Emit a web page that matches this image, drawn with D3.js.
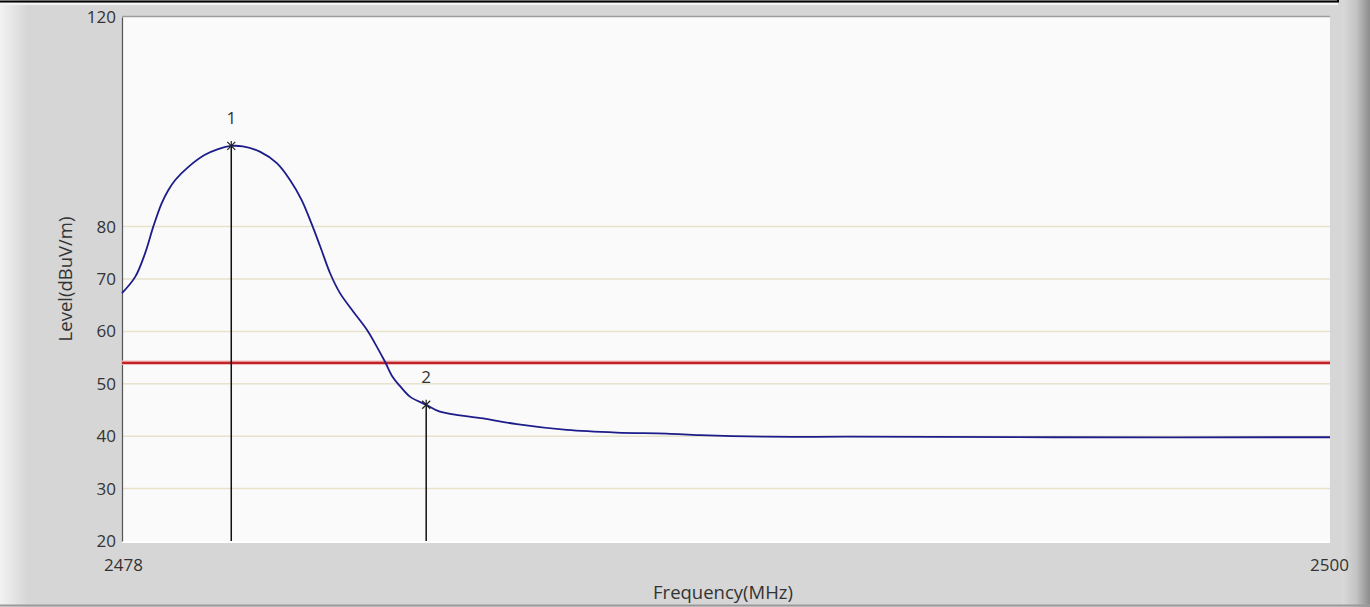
<!DOCTYPE html>
<html><head><meta charset="utf-8">
<script src="https://cdn.jsdelivr.net/npm/d3@7"></script>
<style>
html,body{margin:0;padding:0;background:#d6d6d6;}
svg{display:block;}
text{font-family:"Open Sans","Noto Sans",sans-serif;fill:#333;}
</style></head>
<body>
<svg id="c" width="1370" height="607"></svg>
<script>
// ---- data ----
const freqs  = [2478.00,2478.24,2478.42,2478.57,2478.72,2478.84,2478.97,2479.21,2479.51,2479.75,2479.99,2480.20,2480.51,2480.82,2481.06,2481.27,2481.45,2481.61,2481.79,2481.97,2482.21,2482.46,2482.64,2482.79,2482.93,2483.06,2483.25,2483.54,2483.79,2484.58,2485.19,2486.10,2487.01,2487.92,2488.53,2489.74,2491.26,2495.00,2500.00];
const levels = [67.3,70.4,74.9,80.0,84.4,86.9,88.9,91.4,93.7,94.8,95.4,95.3,94.3,92.1,88.9,85.1,80.6,76.2,71.1,67.3,63.8,60.3,57.1,54.2,51.3,49.6,47.5,46.0,44.7,43.4,42.3,41.2,40.7,40.5,40.2,39.9,39.9,39.8,39.8];
const limitLevel = 54;
const markerFreqs  = [2479.99, 2483.54];
const markerLevels = [95.4, 46.0];
const markerLabels = ["1","2"];
const yTicks = [20,30,40,50,60,70,80,120];
const gridLevels = [30,40,50,60,70,80];
const xTicks = [2478,2500];

// ---- layout ----
const svg = d3.select("#c");
const L=122, R=1330, T=17, B=541;
const x = d3.scaleLinear().domain([2478,2500]).range([L,R]);
const y = d3.scaleLinear().domain([20,120]).range([B,T]);

const defs = svg.append("defs");
const gl = defs.append("linearGradient").attr("id","lg").attr("x1",0).attr("x2",1);
gl.append("stop").attr("offset",0).attr("stop-color","#f2f2f2");
gl.append("stop").attr("offset",1).attr("stop-color","#d6d6d6");
const gr = defs.append("linearGradient").attr("id","rg").attr("x1",0).attr("x2",1);
gr.append("stop").attr("offset",0).attr("stop-color","#dadada");
gr.append("stop").attr("offset",0.5).attr("stop-color","#c4c4c4");
gr.append("stop").attr("offset",1).attr("stop-color","#8c8c8c");

// background frame
svg.append("rect").attr("x",0).attr("y",0).attr("width",1370).attr("height",607).attr("fill","#d6d6d6");
svg.append("rect").attr("x",0).attr("y",0).attr("width",28).attr("height",607).attr("fill","url(#lg)");
svg.append("rect").attr("x",1342).attr("y",0).attr("width",28).attr("height",607).attr("fill","url(#rg)");
svg.append("line").attr("x1",0).attr("x2",1370).attr("y1",605.5).attr("y2",605.5).attr("stroke","#9a9a9a").attr("stroke-width",2);
svg.append("path").attr("d","M0,1.5H1338V0").attr("fill","none").attr("stroke","#000").attr("stroke-width",2);
svg.append("line").attr("x1",0).attr("x2",1338).attr("y1",4).attr("y2",4).attr("stroke","#f4f4f4").attr("stroke-width",2);

// plot area
svg.append("rect").attr("x",L).attr("y",T).attr("width",R-L).attr("height",B-T).attr("fill","#fafafa");
svg.append("line").attr("x1",L).attr("x2",R).attr("y1",T-0.5).attr("y2",T-0.5).attr("stroke","#9c9c9c").attr("stroke-width",1.5);
svg.append("line").attr("x1",L).attr("x2",R).attr("y1",B+1).attr("y2",B+1).attr("stroke","#ffffff").attr("stroke-width",2);

// grid
svg.append("g").selectAll("line").data(gridLevels).join("line")
  .attr("x1",L).attr("x2",R).attr("y1",d=>y(d)).attr("y2",d=>y(d))
  .attr("stroke","#e6e2cc").attr("stroke-width",1.5);

// y axis
const ya = svg.append("g").attr("transform",`translate(${L},0)`)
  .call(d3.axisLeft(y).tickValues(yTicks).tickSize(0).tickPadding(6));
ya.select(".domain").attr("stroke","#555").attr("stroke-width",1.2);
ya.selectAll("text").style("font-size","17px").attr("fill","#333").attr("dy","0.32em");

// x axis labels
const xa = svg.append("g").attr("transform",`translate(0,${B})`)
  .call(d3.axisBottom(x).tickValues(xTicks).tickSize(0).tickPadding(18).tickFormat(d3.format("d")));
xa.select(".domain").remove();
xa.selectAll("text").style("font-size","17px").attr("fill","#333")
  .attr("text-anchor","middle").attr("dx",(d,i)=> i===0 ? "1" : "-1");

// axis titles
svg.append("text").attr("transform",`translate(72,279) rotate(-90)`)
  .attr("text-anchor","middle").style("font-size","18.5px").text("Level(dBuV/m)");
svg.append("text").attr("x",723).attr("y",599).attr("text-anchor","middle")
  .style("font-size","18.5px").text("Frequency(MHz)");

// limit line
svg.append("line").attr("x1",L).attr("x2",R).attr("y1",y(limitLevel)).attr("y2",y(limitLevel))
  .attr("stroke","#f0b8b8").attr("stroke-width",4.5);
svg.append("line").attr("x1",L).attr("x2",R).attr("y1",y(limitLevel)).attr("y2",y(limitLevel))
  .attr("stroke","#c0242a").attr("stroke-width",2.2);

// marker lines
const mk = markerFreqs.map((f,i)=>({f, v:markerLevels[i], l:markerLabels[i]}));
svg.append("g").selectAll("line").data(mk).join("line")
  .attr("x1",d=>x(d.f)).attr("x2",d=>x(d.f)).attr("y1",d=>y(d.v)).attr("y2",B)
  .attr("stroke","#111").attr("stroke-width",1.5);

// trace
const pts = freqs.map((f,i)=>[f,levels[i]]);
svg.append("path").datum(pts)
  .attr("d", d3.line().x(d=>x(d[0])).y(d=>y(d[1])).curve(d3.curveCatmullRom.alpha(0.5)))
  .attr("fill","none").attr("stroke","#1c1c8a").attr("stroke-width",1.8);

// marker symbols and labels
const mg = svg.append("g").selectAll("g").data(mk).join("g")
  .attr("transform",d=>`translate(${x(d.f)},${y(d.v)})`);
mg.append("path").attr("d","M-4,-4L4,4M-4,4L4,-4M0,-5V0").attr("stroke","#222").attr("stroke-width",1.2);
mg.append("text").attr("x",0).attr("y",-22).attr("text-anchor","middle").style("font-size","17px").text(d=>d.l);
</script>
</body></html>
